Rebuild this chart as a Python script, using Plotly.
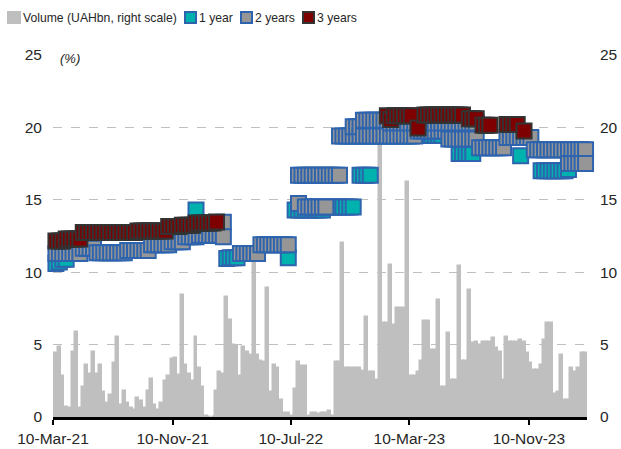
import datetime as dt
import plotly.graph_objects as go

START = dt.date(2021, 3, 9)  # first weekly auction (week 0)

# Weekly volume, UAHbn (right scale), weeks 0..156
volume = [
    2.1, 4.4, 4.85, 2.8, 0.7, 0.6, 4.5, 5.9, 0.6, 2.1,
    3.6, 3.0, 4.5, 3.0, 3.6, 1.7, 1.0, 1.5, 3.7, 5.5,
    0.8, 1.8, 1.0, 0.6, 0.5, 1.3, 1.1, 0.6, 1.8, 2.6,
    0.8, 0.5, 1.0, 2.5, 2.8, 4.0, 4.1, 2.9, 8.4, 3.6,
    3.0, 2.5, 5.5, 3.4, 2.1, 0.1, 0.0, 0.0, 1.8, 3.1,
    3.0, 8.3, 6.7, 5.0, 4.9, 2.8, 4.85, 4.5, 4.3, 10.7,
    4.3, 3.9, 3.8, 8.9, 1.75, 3.6, 3.4, 1.2, 0.3, 0.3,
    0.1, 1.9, 3.8, 3.5, 3.5, 0.1, 0.3, 0.3, 0.2, 0.3,
    0.3, 0.4, 0.1, 3.8, 3.8, 12.0, 3.4, 3.4, 3.4, 3.4,
    3.4, 3.2, 6.9, 3.1, 3.1, 2.55, 18.9, 6.5, 6.5, 10.5,
    6.35, 7.5, 7.5, 7.5, 16.2, 2.8, 2.8, 3.1, 3.9, 6.6,
    6.6, 4.6, 4.6, 8.1, 2.1, 2.1, 5.8, 2.55, 2.55, 10.4,
    3.9, 3.9, 8.8, 5.1, 5.2, 5.0, 5.2, 5.2, 5.2, 5.45,
    4.8, 4.5, 2.55, 5.55, 5.2, 5.2, 5.2, 5.3, 5.2, 4.4,
    3.7, 3.25, 3.25, 3.6, 5.3, 6.5, 6.5, 1.6, 1.7, 4.3,
    1.15, 1.15, 3.4, 3.1, 3.4, 4.4, 4.4,
]

# Placement yields (%), given as (week number, yield)
weeks_1y = [0, 1, 2, 3, 4, 42,
            51, 52, 53, 54, 69,
            71, 72, 73, 74, 75, 76, 77, 78, 79,
            81, 82, 83, 84, 85, 86, 87, 88,
            90, 91, 92, 93,
            107, 108, 109, 110, 111, 112, 113, 114,
            119, 120, 121, 122, 123, 137,
            143, 144, 145, 146, 147, 148, 149, 150, 151]
yield_1y = [10.6, 10.6, 10.7, 10.9, 10.9, 14.3,
            10.95, 11.0, 11.0, 11.0, 11.0,
            14.3, 14.3, 14.3, 14.3, 14.3, 14.3, 14.3, 14.3, 14.3,
            14.5, 14.5, 14.5, 14.5, 14.5, 14.5, 14.5, 14.5,
            16.7, 16.7, 16.7, 16.7,
            19.45, 19.45, 19.45, 19.45, 19.45, 19.45, 19.45, 19.45,
            18.2, 18.2, 18.2, 18.2, 18.2, 18.05,
            17.0, 17.0, 17.0, 17.0, 17.0, 17.0, 17.0, 17.0, 17.1]

weeks_2y = list(range(0, 50)) + [50, 50] + list(range(55, 70)) + \
    [72] + list(range(74, 81)) + list(range(72, 85)) + \
    list(range(84, 107)) + list(range(107, 116)) + list(range(116, 125)) + \
    list(range(125, 133)) + list(range(133, 141)) + list(range(141, 157)) + \
    list(range(88, 91)) + list(range(91, 99)) + list(range(99, 125)) + \
    list(range(151, 157))
yield_2y = [
    11.3, 11.3, 11.3, 11.3, 11.3, 11.3, 11.3, 11.3, 11.3,
    11.65, 11.65, 11.65, 11.65,
    11.35, 11.35, 11.35, 11.35, 11.35, 11.35, 11.35, 11.35, 11.35,
    11.5, 11.5, 11.5, 11.5, 11.5, 11.5, 11.5,
    11.9, 11.9, 11.9, 11.9, 11.9, 11.9,
    12.1, 12.1, 12.1, 12.1,
    12.45, 12.45, 12.45, 12.45,
    12.55, 12.55, 12.55, 12.55, 12.55, 12.55, 12.55,
    13.45, 12.45,
    11.3, 11.3, 11.3, 11.3, 11.3, 11.3,
    11.9, 11.9, 11.9, 11.9, 11.9, 11.9, 11.9, 11.9, 11.9,
    14.75,
    14.5, 14.5, 14.5, 14.5, 14.5, 14.5, 14.5,
    16.7, 16.7, 16.7, 16.7, 16.7, 16.7, 16.7, 16.7, 16.7, 16.7, 16.7, 16.7, 16.7,
    19.4, 19.4, 19.4, 19.4, 19.4, 19.4, 19.4, 19.4, 19.4, 19.4, 19.4, 19.4,
    19.4, 19.4, 19.4, 19.4, 19.4, 19.4, 19.4, 19.4, 19.4, 19.4, 19.4,
    19.75, 19.75, 19.75, 19.75, 19.75, 19.75, 19.75, 19.75, 19.75,
    19.2, 19.2, 19.2, 19.2, 19.2, 19.2, 19.2, 19.2, 19.2,
    18.6, 18.6, 18.6, 18.6, 18.6, 18.6, 18.6, 18.6,
    19.3, 19.3, 19.3, 19.3, 19.3, 19.3, 19.3, 19.3,
    18.45, 18.45, 18.45, 18.45, 18.45, 18.45, 18.45, 18.45,
    18.45, 18.45, 18.45, 18.45, 18.45, 18.45, 18.45, 18.45,
    20.05, 20.05, 20.05,
    20.5, 20.5, 20.5, 20.5, 20.5, 20.5, 20.5, 20.5,
    20.3, 20.3, 20.3, 20.3, 20.3, 20.3, 20.3, 20.3, 20.3, 20.3, 20.3, 20.3, 20.3,
    20.3, 20.3, 20.3, 20.3, 20.3, 20.3, 20.3, 20.3, 20.3, 20.3, 20.3, 20.3, 20.3,
    17.5, 17.5, 17.5, 17.5, 17.5, 17.5,
]

weeks_3y = list(range(0, 49)) + [98, 99, 100, 101, 102, 103, 104, 105, 107] + \
    list(range(109, 121)) + [122, 123, 124, 126, 127, 128, 133, 134, 135, 136, 138]
yield_3y = [
    12.15, 12.15, 12.15, 12.15,
    12.3, 12.3, 12.3, 12.3, 12.3,
    12.75, 12.75, 12.75, 12.75, 12.75, 12.75, 12.75, 12.75,
    12.75, 12.75, 12.75, 12.75, 12.75, 12.75, 12.75, 12.75,
    12.85, 12.85, 12.85, 12.85, 12.85, 12.85, 12.85, 12.85, 12.85,
    13.15, 13.15, 13.15, 13.15,
    13.25, 13.25, 13.25, 13.25,
    13.4, 13.4, 13.4, 13.4, 13.4, 13.4, 13.47,
    20.8, 20.55, 20.8, 20.8, 20.8, 20.8, 20.8, 20.8, 19.95,
    20.85, 20.85, 20.85, 20.85, 20.85, 20.85, 20.85, 20.85, 20.85, 20.85, 20.85, 20.85,
    20.6, 20.6, 20.6, 20.15, 20.15, 20.15, 20.2, 20.2, 20.2, 20.2, 19.75,
]

x_ticks = ["2021-03-10", "2021-11-10", "2022-07-10", "2023-03-10", "2023-11-10"]
y_ticks = [0, 5, 10, 15, 20, 25]

series_names = ["Volume (UAHbn, right scale)", "1 year", "2 years", "3 years"]


def to_dates(weeks):
    return [START + dt.timedelta(weeks=w) for w in weeks]


def ordered(weeks, values):
    pairs = sorted(zip(weeks, values), key=lambda p: p[0])
    return to_dates([p[0] for p in pairs]), [p[1] for p in pairs]


FONT = "Liberation Sans, Arial, sans-serif"
TXT = "#262626"
VOL_C = "#BFBFBF"
C1 = "#00B2AE"
C2 = "#969696"
C3 = "#7F0000"
BORDER_BLUE = "#2E64AE"
BORDER_DARK = "#333333"

W, H = 621, 449
L, R, T, B = 53, 587, 55, 417

fig = go.Figure()

fig.add_trace(go.Bar(
    x=to_dates(range(len(volume))), y=volume, name=series_names[0],
    marker=dict(color=VOL_C, line=dict(color=VOL_C, width=1.5)),
    width=6 * 86400000, yaxis="y", showlegend=False,
))

marker_size = 15
for (wk, vals, fill, border, name) in [
    (weeks_1y, yield_1y, C1, BORDER_BLUE, series_names[1]),
    (weeks_2y, yield_2y, C2, BORDER_BLUE, series_names[2]),
    (weeks_3y, yield_3y, C3, BORDER_DARK, series_names[3]),
]:
    xs, ys = ordered(wk, vals)
    fig.add_trace(go.Scatter(
        x=xs, y=ys, mode="markers", name=name, yaxis="y2", showlegend=False,
        cliponaxis=False,
        marker=dict(symbol="square", size=marker_size, color=fill,
                    line=dict(color=border, width=2)),
    ))


def px_x(x):
    return (x - L) / (R - L)


def px_y(y):
    return (B - y) / (B - T)


shapes = []
annotations = []
legend_items = [
    (8, 20, 21, VOL_C, VOL_C, series_names[0]),
    (185, 196, 197, C1, BORDER_BLUE, series_names[1]),
    (241, 252, 253, C2, BORDER_BLUE, series_names[2]),
    (303, 314, 315, C3, BORDER_DARK, series_names[3]),
]
for (x0, x1, tx, fill, border, name) in legend_items:
    shapes.append(dict(type="rect", xref="paper", yref="paper",
                       x0=px_x(x0), x1=px_x(x1), y0=px_y(23), y1=px_y(12),
                       fillcolor=fill, line=dict(color=border, width=2)))
    annotations.append(dict(xref="paper", yref="paper", x=px_x(tx), y=px_y(17.5),
                            xanchor="left", yanchor="middle", showarrow=False,
                            text=name, font=dict(family=FONT, size=12.2, color=TXT)))

annotations.append(dict(xref="paper", yref="paper", x=px_x(58), y=px_y(58),
                        xanchor="left", yanchor="middle", showarrow=False,
                        text="<i>(%)</i>", font=dict(family=FONT, size=13, color=TXT)))

fig.update_layout(
    width=W, height=H,
    margin=dict(l=L, r=W - R, t=T, b=H - B, pad=0, autoexpand=False),
    paper_bgcolor="white", plot_bgcolor="white",
    font=dict(family=FONT, size=15.5, color=TXT),
    bargap=0,
    showlegend=False,
    xaxis=dict(type="date", range=["2021-03-10", "2024-03-08"],
               tickvals=x_ticks, tickformat="%d-%b-%y",
               ticks="outside", ticklen=5, tickwidth=2, tickcolor="black",
               showline=True, linecolor="black", linewidth=3,
               showgrid=False, zeroline=False, automargin=False),
    yaxis=dict(range=[0, 25], tickvals=y_ticks, showgrid=True,
               gridcolor="#BFBFBF", griddash="dash", gridwidth=1,
               zeroline=False, showline=False, ticks="",
               ticklabelstandoff=10, automargin=False),
    yaxis2=dict(range=[0, 25], tickvals=y_ticks, overlaying="y", side="right",
                showgrid=False, zeroline=False, showline=False, ticks="",
                ticklabelstandoff=12, automargin=False),
    shapes=shapes,
    annotations=annotations,
)

fig.write_html("out.html", config={"displayModeBar": False},
               post_script="document.body.style.margin='0px';")
